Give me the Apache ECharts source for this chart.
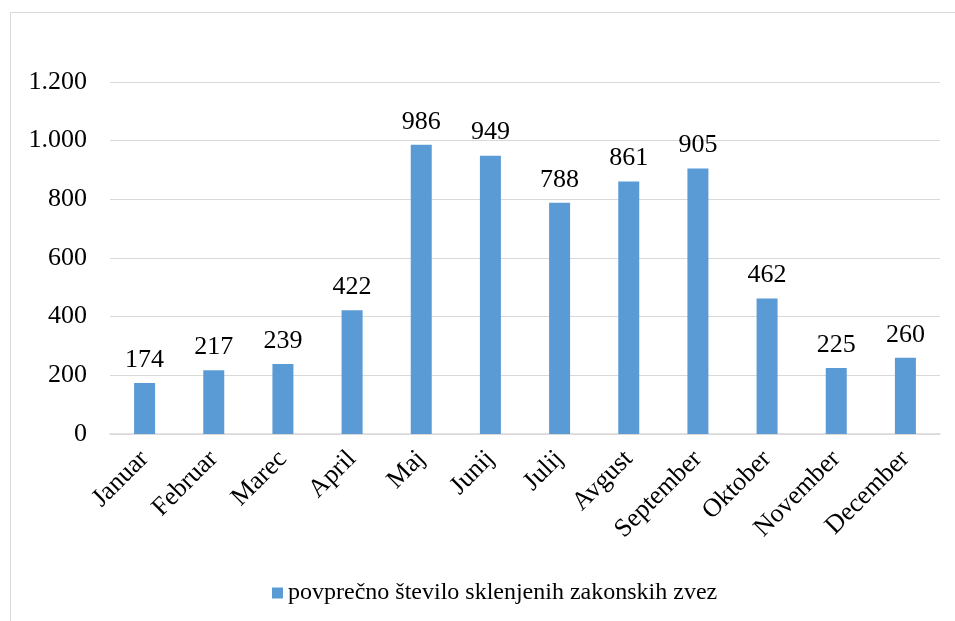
<!DOCTYPE html>
<html>
<head>
<meta charset="utf-8">
<script src="https://cdn.jsdelivr.net/npm/echarts@6/dist/echarts.min.js"></script>
<style>
  html, body { margin: 0; padding: 0; background: #fff; }
  #chart { width: 955px; height: 621px; }
</style>
</head>
<body>
<div id="chart"></div>
<script>
const months = ['Januar', 'Februar', 'Marec', 'April', 'Maj', 'Junij',
    'Julij', 'Avgust', 'September', 'Oktober', 'November', 'December'];
const marriages = [174, 217, 239, 422, 986, 949, 788, 861, 905, 462, 225, 260];
const seriesName = 'povprečno število sklenjenih zakonskih zvez';

const font = '"Liberation Serif", "Times New Roman", serif';
const fmtThousands = v => String(v).replace(/\B(?=(\d{3})+(?!\d))/g, '.');

const chart = echarts.init(document.getElementById('chart'), null, {renderer: 'canvas'});
chart.setOption({
    animation: false,
    textStyle: {fontFamily: font},
    graphic: [{
        type: 'rect',
        shape: {x: 10.5, y: 12.5, width: 960, height: 640},
        style: {fill: 'none', stroke: '#d9d9d9', lineWidth: 1},
        silent: true,
    }],
    grid: {left: 110, right: 15, top: 82, bottom: 187, containLabel: false},
    legend: {
        data: [seriesName],
        left: 267,
        top: 576,
        itemWidth: 11,
        itemHeight: 11,
        itemGap: 6,
        icon: 'rect',
        textStyle: {fontFamily: font, fontSize: 24, color: '#000'},
    },
    xAxis: {
        type: 'category',
        data: months,
        axisTick: {show: false},
        axisLine: {lineStyle: {color: '#d9d9d9', width: 1.5}},
        axisLabel: {
            rotate: 45,
            interval: 0,
            margin: 21,
            fontFamily: font,
            fontSize: 26,
            color: '#000',
        },
    },
    yAxis: {
        type: 'value',
        min: 0,
        max: 1200,
        interval: 200,
        axisLine: {show: false},
        axisTick: {show: false},
        splitLine: {lineStyle: {color: '#d9d9d9', width: 1}},
        axisLabel: {
            margin: 23,
            fontFamily: font,
            fontSize: 26,
            color: '#000',
            formatter: fmtThousands,
        },
    },
    series: [{
        name: seriesName,
        type: 'bar',
        data: marriages,
        barWidth: 21,
        itemStyle: {color: '#5b9bd5'},
        label: {
            show: true,
            position: 'top',
            distance: 10,
            fontFamily: font,
            fontSize: 26,
            color: '#000',
            formatter: p => fmtThousands(p.value),
        },
    }],
});
</script>
</body>
</html>
